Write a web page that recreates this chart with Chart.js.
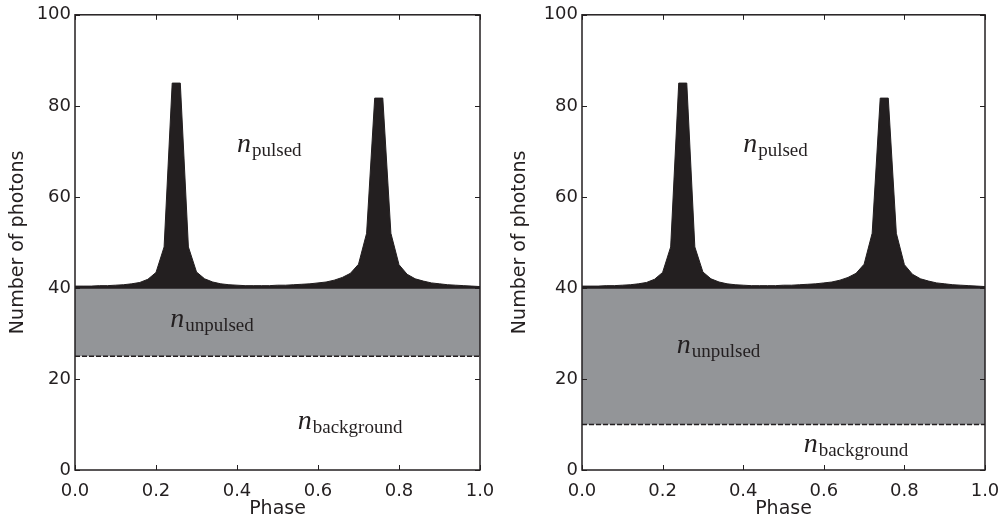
<!DOCTYPE html>
<html>
<head>
<meta charset="utf-8">
<script src="https://cdn.jsdelivr.net/npm/chart.js@4"></script>
<style>
  html, body { margin: 0; padding: 0; background: #fff; }
  #wrap { width: 1004px; height: 520px; display: flex; }
  .box { width: 502px; height: 520px; position: relative; }
</style>
</head>
<body>
<div id="wrap">
  <div class="box"><canvas id="left"></canvas></div>
  <div class="box"><canvas id="right"></canvas></div>
</div>
<script>
// Phase bins of the pulse profile
const phase = [0.00, 0.02, 0.04, 0.06, 0.08, 0.10, 0.12, 0.14, 0.16, 0.18,
               0.20, 0.22, 0.24, 0.26, 0.28, 0.30, 0.32, 0.34, 0.36, 0.38,
               0.40, 0.42, 0.44, 0.46, 0.48, 0.50, 0.52, 0.54, 0.56, 0.58,
               0.60, 0.62, 0.64, 0.66, 0.68, 0.70, 0.72, 0.74, 0.76, 0.78,
               0.80, 0.82, 0.84, 0.86, 0.88, 0.90, 0.92, 0.94, 0.96, 0.98, 1.00]
// Number of photons (pulse profile)
const photons = [40.4, 40.4, 40.4, 40.5, 40.5, 40.6, 40.7, 40.9, 41.2, 41.9,
                 43.4, 49.0, 85.0, 85.0, 49.0, 43.5, 42.0, 41.3, 40.9, 40.7,
                 40.6, 40.5, 40.5, 40.5, 40.5, 40.6, 40.6, 40.7, 40.8, 40.9,
                 41.1, 41.3, 41.7, 42.3, 43.2, 45.2, 52.0, 81.7, 81.7, 52.0,
                 45.1, 43.0, 42.0, 41.5, 41.1, 40.9, 40.7, 40.6, 40.5, 40.4, 40.3]
// Constant levels
const unpulsedLevel = 40
const backgroundLevel = [25, 10]   // left panel, right panel

const xTicks = [0, 0.2, 0.4, 0.6, 0.8, 1.0]
const yTicks = [0, 20, 40, 60, 80, 100]

// Text labels: [main, subscript, phase, photons] for each panel
const labelsLeft = [
  ["n", "pulsed", 0.40, 69.8],
  ["n", "unpulsed", 0.235, 31.5],
  ["n", "background", 0.55, 9.0]
]
const labelsRight = [
  ["n", "pulsed", 0.40, 69.8],
  ["n", "unpulsed", 0.235, 25.8],
  ["n", "background", 0.55, 4.0]
]

const ink = '#231f20'
Chart.defaults.font.family = 'DejaVu Sans'
Chart.defaults.font.size = 18
Chart.defaults.color = ink

// frame + inward ticks + n_xxx labels
const framePlugin = {
  id: 'frame',
  afterDraw(chart, args, opts) {
    const c = chart.ctx, a = chart.chartArea
    const xs = chart.scales.x, ys = chart.scales.y
    c.save()
    c.strokeStyle = ink
    c.lineWidth = 1.5
    c.strokeRect(a.left, a.top, a.right - a.left, a.bottom - a.top)
    c.lineWidth = 1
    c.beginPath()
    xTicks.forEach(v => {
      const px = Math.round(xs.getPixelForValue(v)) + 0.5
      c.moveTo(px, a.bottom); c.lineTo(px, a.bottom - 5)
      c.moveTo(px, a.top); c.lineTo(px, a.top + 5)
    })
    yTicks.forEach(v => {
      const py = Math.round(ys.getPixelForValue(v)) + 0.5
      c.moveTo(a.left, py); c.lineTo(a.left + 5, py)
      c.moveTo(a.right, py); c.lineTo(a.right - 5, py)
    })
    c.stroke()

    c.fillStyle = ink
    c.textBaseline = 'alphabetic'
    opts.labels.forEach(l => {
      const px = xs.getPixelForValue(l[2]), py = ys.getPixelForValue(l[3])
      c.font = 'italic 28px "Liberation Serif"'
      c.fillText(l[0], px, py)
      const w = c.measureText(l[0]).width
      c.font = '19px "Liberation Serif"'
      c.fillText(l[1], px + w + 1, py + 4)
    })
    c.restore()
  }
}

function makeChart(id, bg, labels, padLeft, padRight) {
  const profile = phase.map((p, i) => ({ x: p, y: photons[i] }))
  const flat = v => [{ x: 0, y: v }, { x: 1, y: v }]

  return new Chart(document.getElementById(id), {
    type: 'line',
    data: {
      datasets: [
        {
          // unpulsed base line at 40
          data: flat(unpulsedLevel),
          borderColor: ink,
          borderWidth: 1.5,
          fill: false,
          order: 0
        },
        {
          // pulsed part
          data: profile,
          borderColor: ink,
          borderWidth: 1,
          backgroundColor: ink,
          fill: { value: unpulsedLevel },
          order: 1
        },
        {
          // background level, dashed
          data: flat(bg),
          borderColor: ink,
          borderWidth: 1.5,
          borderDash: [5, 2],
          fill: false,
          order: 2
        },
        {
          // unpulsed band
          data: flat(unpulsedLevel),
          borderWidth: 0,
          backgroundColor: '#939598',
          fill: { value: bg },
          order: 3
        }
      ]
    },
    options: {
      responsive: true,
      maintainAspectRatio: false,
      animation: false,
      elements: { point: { radius: 0 }, line: { tension: 0 } },
      layout: { padding: { left: 0, right: padRight, top: 14, bottom: 0 } },
      plugins: {
        legend: { display: false },
        tooltip: { enabled: false },
        frame: { labels: labels }
      },
      scales: {
        x: {
          type: 'linear',
          min: 0, max: 1,
          grid: { display: false, drawTicks: true, tickLength: 7 },
          border: { display: false },
          afterBuildTicks: s => { s.ticks = xTicks.map(v => ({ value: v })) },
          ticks: { callback: v => v.toFixed(1), padding: 4, maxRotation: 0 },
          title: { display: true, text: 'Phase', font: { size: 19 }, padding: { top: 0, bottom: 0 } },
          afterFit: s => { s.height = 50 }
        },
        y: {
          min: 0, max: 100,
          grid: { display: false, drawTicks: false },
          border: { display: false },
          afterBuildTicks: s => { s.ticks = yTicks.map(v => ({ value: v })) },
          ticks: { padding: 4 },
          title: { display: true, text: 'Number of photons', font: { size: 19 }, padding: { top: 7, bottom: 0 } },
          afterFit: s => { s.width = padLeft }
        }
      }
    },
    plugins: [framePlugin]
  })
}

makeChart('left', backgroundLevel[0], labelsLeft, 75, 22)
makeChart('right', backgroundLevel[1], labelsRight, 80, 19)
</script>
</body>
</html>
